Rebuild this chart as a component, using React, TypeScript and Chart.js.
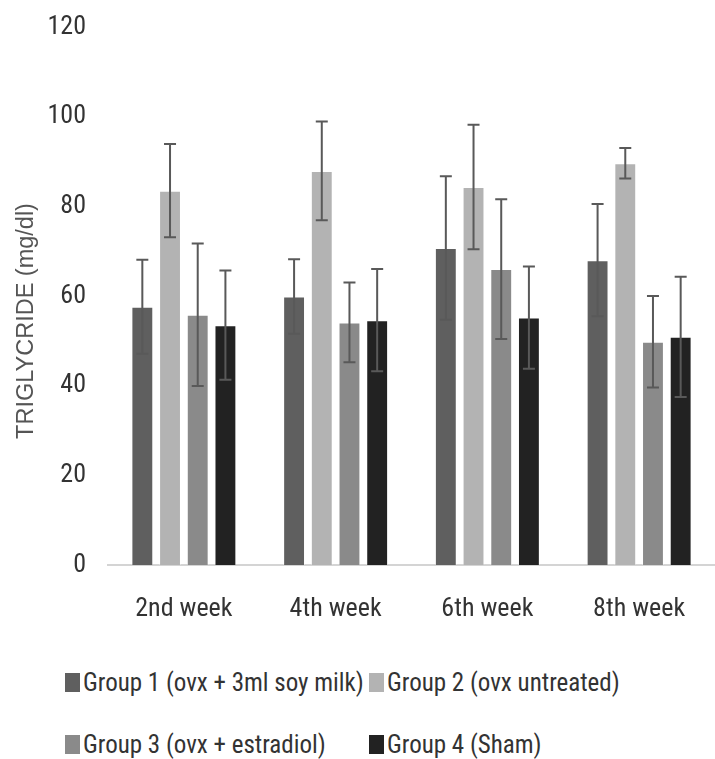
import React, { useEffect, useRef } from "react";
import { Chart, registerables } from "chart.js";

Chart.register(...registerables);

const categories = ["2nd week", "4th week", "6th week", "8th week"];
const seriesNames = [
  "Group 1 (ovx + 3ml soy milk)",
  "Group 2 (ovx untreated)",
  "Group 3 (ovx + estradiol)",
  "Group 4 (Sham)",
];
const group1 = [57.6, 59.9, 70.7, 68.0];
const group2 = [83.5, 87.9, 84.3, 89.6];
const group3 = [55.8, 54.1, 66.0, 49.8];
const group4 = [53.5, 54.6, 55.2, 50.9];
const group1Err = [10.5, 8.3, 16.0, 12.5];
const group2Err = [10.4, 11.0, 13.9, 3.4];
const group3Err = [15.9, 8.9, 15.6, 10.2];
const group4Err = [12.2, 11.4, 11.4, 13.4];
const yTicks = [0, 20, 40, 60, 80, 100, 120];
const yTitle = "TRIGLYCRIDE (mg/dl)";

const colors = ["#5f5f5f", "#b3b3b3", "#8a8a8a", "#222222"];
const values = [group1, group2, group3, group4];
const errors = [group1Err, group2Err, group3Err, group4Err];

const FONT = "'Liberation Sans Narrow', 'Arial Narrow', 'Roboto Condensed', Roboto, sans-serif";
const TEXT = "#333333";

const errorBarPlugin = {
  id: "errorBars",
  afterDatasetsDraw(chart: any) {
    const ctx = chart.ctx;
    const yScale = chart.scales.y;
    ctx.save();
    ctx.strokeStyle = "#595959";
    ctx.lineWidth = 2;
    chart.data.datasets.forEach((ds: any, di: number) => {
      const meta = chart.getDatasetMeta(di);
      meta.data.forEach((bar: any, i: number) => {
        const v = ds.data[i];
        const e = ds.errors[i];
        const x = bar.x;
        const yTop = yScale.getPixelForValue(v + e);
        const yBot = yScale.getPixelForValue(v - e);
        const cap = 6;
        ctx.beginPath();
        ctx.moveTo(x, yTop);
        ctx.lineTo(x, yBot);
        ctx.moveTo(x - cap, yTop);
        ctx.lineTo(x + cap, yTop);
        ctx.moveTo(x - cap, yBot);
        ctx.lineTo(x + cap, yBot);
        ctx.stroke();
      });
    });
    ctx.restore();
  },
};

const yTitlePlugin = {
  id: "yTitleCustom",
  afterDraw(chart: any) {
    const ctx = chart.ctx;
    ctx.save();
    ctx.translate(27, chart.height / 2);
    ctx.rotate(-Math.PI / 2);
    ctx.font = "23.5px 'Liberation Sans', Arial, sans-serif";
    ctx.fillStyle = "#555555";
    ctx.textAlign = "center";
    ctx.textBaseline = "middle";
    ctx.fillText(yTitle, 0, 0);
    ctx.restore();
  },
};

export default function App() {
  const canvasRef = useRef<HTMLCanvasElement | null>(null);

  useEffect(() => {
    document.body.style.margin = "0";
    const canvas = canvasRef.current;
    if (!canvas) return;
    const chart = new Chart(canvas, {
      type: "bar",
      data: {
        labels: categories,
        datasets: seriesNames.map((name, i) => ({
          label: name,
          data: values[i],
          errors: errors[i],
          backgroundColor: colors[i],
          borderColor: "rgba(255,255,255,0.35)",
          borderWidth: 1,
          categoryPercentage: 0.73,
          barPercentage: 0.79,
        })) as any,
      },
      options: {
        animation: false,
        responsive: false,
        devicePixelRatio: 1,
        layout: { padding: { top: 27, left: 0, right: 0, bottom: 0 } },
        plugins: {
          legend: { display: false },
          tooltip: { enabled: false },
          title: { display: false },
        },
        scales: {
          x: {
            grid: { display: false, drawTicks: false },
            border: { display: true, color: "#d4d4d4", width: 2 },
            ticks: {
              color: TEXT,
              font: { family: FONT, size: 26 },
              padding: 29,
              maxRotation: 0,
            },
            afterFit(scale: any) {
              scale.height = 77;
            },
          },
          y: {
            min: 0,
            max: 120,
            grid: { display: false, drawTicks: false },
            border: { display: false },
            afterBuildTicks(scale: any) {
              scale.ticks = yTicks.map((v) => ({ value: v }));
            },
            ticks: {
              color: TEXT,
              font: { family: FONT, size: 26 },
              padding: 22,
            },
            afterFit(scale: any) {
              scale.width = 108;
              scale.paddingTop = 0;
              scale.paddingBottom = 0;
            },
          },
        },
      } as any,
      plugins: [errorBarPlugin, yTitlePlugin],
    });
    return () => chart.destroy();
  }, []);

  const legendRows = [
    [0, 1],
    [2, 3],
  ];

  return (
    <div style={{ width: 715, height: 759, position: "relative", background: "#fff" }}>
      <canvas ref={canvasRef} width={715} height={642} style={{ display: "block" }} />
      <div style={{ marginTop: 9, paddingLeft: 65 }}>
        {legendRows.map((row, ri) => (
          <div key={ri} style={{ display: "flex", height: 62, alignItems: "center" }}>
            {row.map((si) => (
              <div
                key={si}
                style={{
                  display: "flex",
                  alignItems: "center",
                  flexShrink: 0,
                  width: si % 2 === 0 ? 304 : "auto",
                  fontFamily: FONT,
                  fontSize: 25,
                  color: TEXT,
                  whiteSpace: "nowrap",
                }}
              >
                <span
                  style={{
                    display: "inline-block",
                    flexShrink: 0,
                    width: 15,
                    height: 19,
                    background: colors[si],
                    marginRight: 3,
                  }}
                />
                <span>{seriesNames[si]}</span>
              </div>
            ))}
          </div>
        ))}
      </div>
    </div>
  );
}
